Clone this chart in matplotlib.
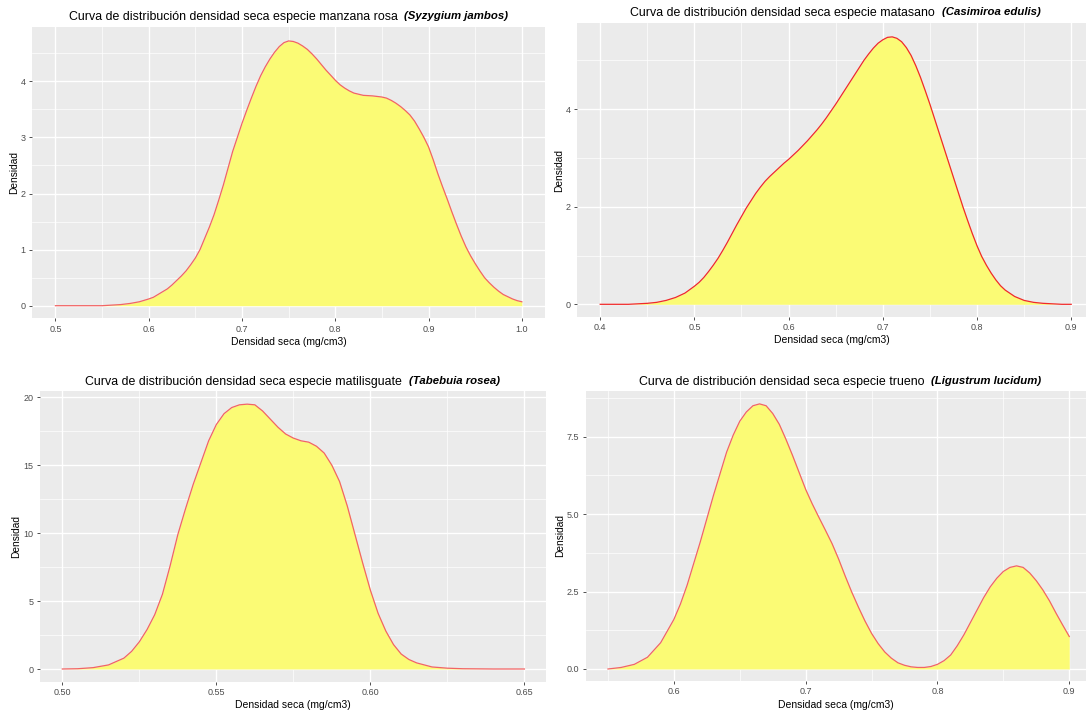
import matplotlib
matplotlib.use('Agg')
import matplotlib.pyplot as plt
from matplotlib.ticker import FixedLocator

plt.rcParams['font.family'] = ['Liberation Sans', 'DejaVu Sans']

# ---------------- data ----------------
manzana_x = [0.50, 0.51, 0.52, 0.53, 0.54, 0.55, 0.56, 0.57, 0.58, 0.59,
             0.600, 0.605, 0.610, 0.615, 0.620, 0.625, 0.630, 0.635, 0.640, 0.645,
             0.650, 0.655, 0.660, 0.665, 0.670, 0.675, 0.680, 0.685, 0.690, 0.695,
             0.700, 0.705, 0.710, 0.715, 0.720, 0.725, 0.730, 0.735, 0.740, 0.745,
             0.750, 0.755, 0.760, 0.765, 0.770, 0.775, 0.780, 0.785, 0.790, 0.795,
             0.800, 0.805, 0.810, 0.815, 0.820, 0.825, 0.830, 0.835, 0.840, 0.845,
             0.850, 0.855, 0.860, 0.865, 0.870, 0.875, 0.880, 0.885, 0.890, 0.895,
             0.900, 0.905, 0.910, 0.915, 0.920, 0.925, 0.930, 0.935, 0.940, 0.945,
             0.950, 0.955, 0.960, 0.965, 0.970, 0.975, 0.980, 0.985, 0.990, 0.995, 1.000]
manzana_y = [0.00, 0.00, 0.00, 0.00, 0.00, 0.00, 0.01, 0.02, 0.04, 0.07,
             0.12, 0.15, 0.20, 0.25, 0.30, 0.37, 0.45, 0.53, 0.62, 0.73,
             0.85, 1.00, 1.20, 1.40, 1.62, 1.88, 2.15, 2.45, 2.75, 3.00,
             3.25, 3.48, 3.70, 3.91, 4.10, 4.26, 4.40, 4.52, 4.62, 4.69,
             4.72, 4.71, 4.68, 4.63, 4.57, 4.49, 4.40, 4.30, 4.20, 4.11,
             4.02, 3.94, 3.88, 3.83, 3.79, 3.77, 3.75, 3.745, 3.74, 3.73,
             3.72, 3.70, 3.66, 3.61, 3.55, 3.48, 3.40, 3.29, 3.15, 3.00,
             2.83, 2.60, 2.35, 2.12, 1.90, 1.67, 1.45, 1.24, 1.05, 0.89,
             0.75, 0.62, 0.50, 0.41, 0.33, 0.26, 0.20, 0.16, 0.12, 0.09, 0.07]

matasano_x = [0.40, 0.41, 0.42, 0.43, 0.44, 0.45, 0.46, 0.47, 0.48, 0.49,
              0.500, 0.505, 0.510, 0.515, 0.520, 0.525, 0.530, 0.535, 0.540, 0.545,
              0.550, 0.555, 0.560, 0.565, 0.570, 0.575, 0.580, 0.585, 0.590, 0.595,
              0.600, 0.605, 0.610, 0.615, 0.620, 0.625, 0.630, 0.635, 0.640, 0.645,
              0.650, 0.655, 0.660, 0.665, 0.670, 0.675, 0.680, 0.685, 0.690, 0.695,
              0.700, 0.705, 0.710, 0.715, 0.720, 0.725, 0.730, 0.735, 0.740, 0.745,
              0.750, 0.755, 0.760, 0.765, 0.770, 0.775, 0.780, 0.785, 0.790, 0.795,
              0.800, 0.805, 0.810, 0.815, 0.820, 0.825, 0.830, 0.84, 0.85, 0.86,
              0.87, 0.88, 0.89, 0.90]
matasano_y = [0.00, 0.00, 0.00, 0.00, 0.01, 0.02, 0.04, 0.08, 0.14, 0.23,
              0.37, 0.45, 0.55, 0.67, 0.80, 0.94, 1.10, 1.27, 1.45, 1.63,
              1.80, 1.97, 2.12, 2.27, 2.40, 2.52, 2.62, 2.71, 2.80, 2.89,
              2.97, 3.06, 3.15, 3.25, 3.35, 3.46, 3.57, 3.69, 3.82, 3.96,
              4.10, 4.25, 4.40, 4.55, 4.70, 4.85, 5.00, 5.13, 5.25, 5.35,
              5.42, 5.47, 5.48, 5.45, 5.38, 5.26, 5.10, 4.89, 4.65, 4.38,
              4.10, 3.80, 3.50, 3.20, 2.90, 2.60, 2.30, 2.00, 1.72, 1.45,
              1.20, 0.98, 0.80, 0.64, 0.50, 0.38, 0.29, 0.16, 0.08, 0.04,
              0.02, 0.01, 0.00, 0.00]

matilisguate_x = [0.500, 0.505, 0.510, 0.515,
                  0.5200, 0.5225, 0.5250, 0.5275, 0.5300, 0.5325, 0.5350, 0.5375,
                  0.5400, 0.5425, 0.5450, 0.5475, 0.5500, 0.5525, 0.5550, 0.5575,
                  0.5600, 0.5625, 0.5650, 0.5675, 0.5700, 0.5725, 0.5750, 0.5775,
                  0.5800, 0.5825, 0.5850, 0.5875, 0.5900, 0.5925, 0.5950, 0.5975,
                  0.6000, 0.6025, 0.6050, 0.6075, 0.6100, 0.6125, 0.6150,
                  0.620, 0.625, 0.630, 0.635, 0.640, 0.645, 0.650]
matilisguate_y = [0.00, 0.02, 0.10, 0.30,
                  0.80, 1.30, 2.00, 2.90, 4.00, 5.50, 7.60, 9.90,
                  11.80, 13.60, 15.20, 16.80, 18.00, 18.80, 19.25, 19.45,
                  19.50, 19.45, 19.00, 18.40, 17.80, 17.30, 17.00, 16.80,
                  16.70, 16.40, 15.90, 15.00, 13.80, 12.00, 9.90, 7.80,
                  5.80, 4.10, 2.80, 1.80, 1.10, 0.70, 0.45,
                  0.15, 0.06, 0.02, 0.01, 0.00, 0.00, 0.00]

trueno_x = [0.55, 0.56, 0.57, 0.58, 0.59,
            0.600, 0.605, 0.610, 0.615, 0.620, 0.625, 0.630, 0.635, 0.640, 0.645,
            0.650, 0.655, 0.660, 0.665, 0.670, 0.675, 0.680, 0.685, 0.690, 0.695,
            0.700, 0.705, 0.710, 0.715, 0.720, 0.725, 0.730, 0.735, 0.740, 0.745,
            0.750, 0.755, 0.760, 0.765, 0.770, 0.775, 0.780, 0.785, 0.790, 0.795,
            0.800, 0.805, 0.810, 0.815, 0.820, 0.825, 0.830, 0.835, 0.840, 0.845,
            0.850, 0.855, 0.860, 0.865, 0.870, 0.875, 0.880, 0.885, 0.890, 0.895,
            0.900]
trueno_y = [0.00, 0.05, 0.15, 0.38, 0.85,
            1.60, 2.10, 2.70, 3.40, 4.10, 4.85, 5.60, 6.30, 7.00, 7.55,
            8.00, 8.30, 8.50, 8.56, 8.50, 8.25, 7.90, 7.42, 6.90, 6.35,
            5.80, 5.33, 4.90, 4.48, 4.05, 3.55, 3.00, 2.48, 2.00, 1.55,
            1.15, 0.82, 0.55, 0.35, 0.20, 0.12, 0.07, 0.05, 0.05, 0.08,
            0.15, 0.27, 0.45, 0.75, 1.10, 1.50, 1.90, 2.30, 2.65, 2.93,
            3.15, 3.28, 3.33, 3.28, 3.10, 2.85, 2.55, 2.20, 1.80, 1.42,
            1.05]

titles_normal = ["Curva de distribución densidad seca especie manzana rosa",
                 "Curva de distribución densidad seca especie matasano",
                 "Curva de distribución densidad seca especie matilisguate",
                 "Curva de distribución densidad seca especie trueno"]
titles_italic = ["(Syzygium jambos)", "(Casimiroa edulis)",
                 "(Tabebuia rosea)", "(Ligustrum lucidum)"]

xlabel = "Densidad seca (mg/cm3)"
ylabel = "Densidad"

tl_xticks = [0.5, 0.6, 0.7, 0.8, 0.9, 1.0]
tl_xticklabels = ["0.5", "0.6", "0.7", "0.8", "0.9", "1.0"]
tl_yticks = [0, 1, 2, 3, 4]
tl_yticklabels = ["0", "1", "2", "3", "4"]

tr_xticks = [0.4, 0.5, 0.6, 0.7, 0.8, 0.9]
tr_xticklabels = ["0.4", "0.5", "0.6", "0.7", "0.8", "0.9"]
tr_yticks = [0, 2, 4]
tr_yticklabels = ["0", "2", "4"]

bl_xticks = [0.50, 0.55, 0.60, 0.65]
bl_xticklabels = ["0.50", "0.55", "0.60", "0.65"]
bl_yticks = [0, 5, 10, 15, 20]
bl_yticklabels = ["0", "5", "10", "15", "20"]

br_xticks = [0.6, 0.7, 0.8, 0.9]
br_xticklabels = ["0.6", "0.7", "0.8", "0.9"]
br_yticks = [0.0, 2.5, 5.0, 7.5]
br_yticklabels = ["0.0", "2.5", "5.0", "7.5"]

# ---------------- figure ----------------
W, H = 1086, 711
fig = plt.figure(figsize=(W / 100, H / 100), dpi=100)
fig.patch.set_facecolor('white')

FILL = '#FBFB75'
PANEL = '#EBEBEB'


def add_axes_px(x0, y0, x1, y1):
    return fig.add_axes([x0 / W, 1 - y1 / H, (x1 - x0) / W, (y1 - y0) / H])


def style(ax, xt, xtl, yt, ytl, xminor, yminor, xlim, ylim):
    ax.set_facecolor(PANEL)
    for s in ax.spines.values():
        s.set_visible(False)
    ax.set_xlim(*xlim)
    ax.set_ylim(*ylim)
    ax.set_xticks(xt)
    ax.set_xticklabels(xtl)
    ax.set_yticks(yt)
    ax.set_yticklabels(ytl)
    ax.xaxis.set_minor_locator(FixedLocator(xminor))
    ax.yaxis.set_minor_locator(FixedLocator(yminor))
    ax.grid(which='major', color='white', linewidth=1.0)
    ax.grid(which='minor', color='white', linewidth=0.5)
    ax.set_axisbelow(True)
    ax.tick_params(which='major', length=2.5, width=0.6, color='#333333',
                   labelsize=6.5, labelcolor='#4D4D4D', pad=2)
    ax.tick_params(which='minor', length=0)
    ax.set_xlabel(xlabel, fontsize=7.5, color='black', labelpad=2.5)
    ax.set_ylabel(ylabel, fontsize=7.3, color='black', labelpad=1.5)


def draw(ax, x, y, lc):
    ax.fill_between(x, 0, y, color=FILL, linewidth=0, zorder=2)
    ax.plot(x, y, color=lc, linewidth=0.9, zorder=3, solid_joinstyle='round')


panels = []

ax1 = add_axes_px(32, 27.3, 545, 318.3)
style(ax1, tl_xticks, tl_xticklabels, tl_yticks, tl_yticklabels,
      [0.55, 0.65, 0.75, 0.85, 0.95], [0.5, 1.5, 2.5, 3.5, 4.5],
      (0.4749, 1.0248), (-0.2246, 4.963))
draw(ax1, manzana_x, manzana_y, '#F26464')
panels.append((ax1, 17))

ax2 = add_axes_px(577.3, 23.3, 1086, 316.7)
style(ax2, tr_xticks, tr_xticklabels, tr_yticks, tr_yticklabels,
      [0.45, 0.55, 0.65, 0.75, 0.85], [1, 3, 5],
      (0.3757, 0.9157), (-0.254, 5.758))
draw(ax2, matasano_x, matasano_y, '#F02A2A')
panels.append((ax2, 13))

ax3 = add_axes_px(39.5, 390.7, 546, 681.7)
style(ax3, bl_xticks, bl_xticklabels, bl_yticks, bl_yticklabels,
      [0.525, 0.575, 0.625], [2.5, 7.5, 12.5, 17.5],
      (0.4926, 0.6570), (-0.935, 20.49))
draw(ax3, matilisguate_x, matilisguate_y, '#F26464')
panels.append((ax3, 382))

ax4 = add_axes_px(585.7, 390.7, 1086, 681)
style(ax4, br_xticks, br_xticklabels, br_yticks, br_yticklabels,
      [0.55, 0.65, 0.75, 0.85], [1.25, 3.75, 6.25, 8.75],
      (0.5331, 0.9127), (-0.3875, 8.986))
draw(ax4, trueno_x, trueno_y, '#F26464')
panels.append((ax4, 382))

# titles: normal part + bold italic part, centred over the panel
fig.canvas.draw()
renderer = fig.canvas.get_renderer()
for i, (ax, ypx) in enumerate(panels):
    t1 = fig.text(0, 0, titles_normal[i] + "  ", fontsize=8.9, color='black',
                  va='center', ha='left')
    t2 = fig.text(0, 0, titles_italic[i], fontsize=8.2, color='black',
                  fontweight='bold', fontstyle='italic', va='center', ha='left')
    w1 = t1.get_window_extent(renderer).width
    w2 = t2.get_window_extent(renderer).width
    bb = ax.get_position()
    cx = (bb.x0 + bb.x1) / 2 * W
    if i == 1 or i == 3:
        cx = (bb.x0 * W + 1094) / 2
    start = cx - (w1 + w2) / 2
    yf = 1 - ypx / H
    t1.set_position((start / W, yf))
    t2.set_position(((start + w1) / W, yf + 1.0 / H))

fig.savefig('out.png', dpi=100, facecolor='white')
